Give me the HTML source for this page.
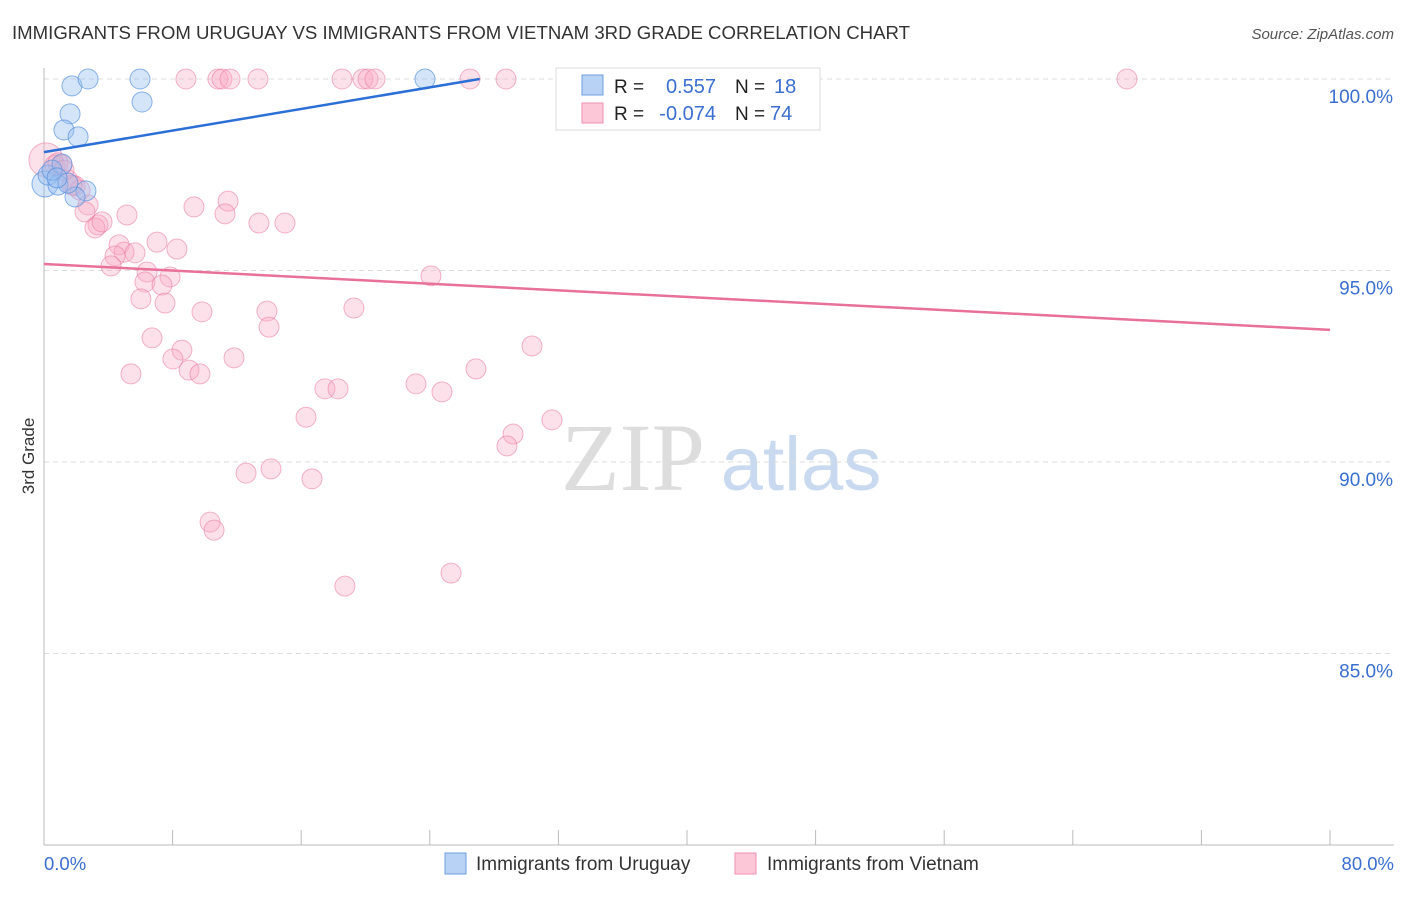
<!DOCTYPE html>
<html><head><meta charset="utf-8"><style>
body{margin:0;background:#fff;font-family:"Liberation Sans",sans-serif}
</style></head><body>
<svg id="c" width="1406" height="892" xmlns="http://www.w3.org/2000/svg">
<text x="12" y="39" font-size="18.6" fill="#333" textLength="898" lengthAdjust="spacingAndGlyphs">IMMIGRANTS FROM URUGUAY VS IMMIGRANTS FROM VIETNAM 3RD GRADE CORRELATION CHART</text>
<text x="1394" y="39" font-size="15" fill="#555" font-style="italic" text-anchor="end">Source: ZipAtlas.com</text>
<text x="633" y="490" font-size="96" fill="#ddd" font-family="Liberation Serif,serif" text-anchor="middle">ZIP</text>
<text x="801" y="490" font-size="76" fill="#c9daf0" text-anchor="middle">atlas</text>
<text transform="translate(34,456) rotate(-90)" font-size="17" fill="#333" text-anchor="middle">3rd Grade</text>
<g id="grid"></g><g id="pts"></g><g id="lines"></g>
<g>
<rect x="556" y="68" width="264" height="62" fill="#fff" stroke="#ddd"/>
<rect x="582" y="75" width="21" height="20" fill="#b8d2f5" stroke="#6d9de0"/>
<rect x="582" y="103" width="21" height="20" fill="#fcc8d8" stroke="#ee8fb0"/>
<text x="614" y="93" font-size="19" fill="#222">R =</text><text x="716" y="93" font-size="20" fill="#3a6fd0" text-anchor="end">0.557</text>
<text x="735" y="93" font-size="19" fill="#222">N =</text><text x="774" y="93" font-size="20" fill="#3a6fd0">18</text>
<text x="614" y="120" font-size="19" fill="#222">R =</text><text x="716" y="120" font-size="20" fill="#3a6fd0" text-anchor="end">-0.074</text>
<text x="735" y="120" font-size="19" fill="#222">N =</text><text x="770" y="120" font-size="20" fill="#3a6fd0">74</text>
</g>
<g>
<rect x="445" y="853" width="21" height="21" fill="#b8d2f5" stroke="#6d9de0"/>
<text x="476" y="870" font-size="19" fill="#333">Immigrants from Uruguay</text>
<rect x="735" y="853" width="21" height="21" fill="#fcc8d8" stroke="#ee8fb0"/>
<text x="767" y="870" font-size="19" fill="#333">Immigrants from Vietnam</text>
</g>
</svg>
<script>
const yTicks=[100,95,90,85];
const yTickLabels=["100.0%","95.0%","90.0%","85.0%"];
const xTickVals=[0,8,16,24,32,40,48,56,64,72,80];
const blueX=[1.74,2.74,5.97,23.7,6.10,1.62,1.24,2.12,0.06,0.25,0.87,1.12,2.61,1.93,1.49,35.5,0.50,0.81];
const blueY=[99.82,100,100,100,99.40,99.09,98.67,98.49,97.26,97.49,97.23,97.78,97.08,96.92,97.28,100,97.62,97.42];
const pinkX=[8.83,10.82,11.07,11.57,13.31,18.54,19.84,20.16,20.59,26.5,28.74,43.3,67.37,0.12,0.68,1.12,0.87,1.49,1.93,2.24,2.74,2.55,3.36,3.17,3.61,5.16,4.67,4.98,4.42,5.66,4.17,7.03,8.27,6.41,6.28,7.84,7.34,6.03,7.53,9.33,11.45,11.26,13.37,14.99,24.07,9.83,13.87,14.00,19.28,6.72,8.58,8.02,11.82,5.41,9.02,9.70,17.48,18.29,23.14,24.76,26.87,30.36,16.30,31.60,29.18,28.80,12.57,14.12,16.67,10.33,10.58,18.72,25.32,1.24,1.74];
const pinkY=[100,100,100,100,100,100,100,100,100,100,100,100,100,97.89,97.75,97.75,97.81,97.36,97.21,97.10,96.71,96.53,96.19,96.11,96.27,96.45,95.67,95.48,95.38,95.46,95.12,95.74,95.56,94.96,94.70,94.83,94.62,94.26,94.15,96.66,96.81,96.48,96.24,96.24,94.86,93.92,93.94,93.52,94.02,93.24,92.92,92.69,92.72,92.30,92.40,92.30,91.91,91.91,92.04,91.83,92.43,93.03,91.17,91.10,90.73,90.42,89.71,89.82,89.56,88.43,88.22,86.76,87.10,97.62,97.23];
const blueTrend=[[0,98.09],[27.1,100]];
const pinkTrend=[[0,95.17],[80,93.45]];
const NS="http://www.w3.org/2000/svg";
const sx=v=>44+v*16.075, sy=v=>79+(100-v)*38.3;
function mk(tag,attrs,parent){const e=document.createElementNS(NS,tag);for(const k in attrs)e.setAttribute(k,attrs[k]);parent.appendChild(e);return e;}
const grid=document.getElementById('grid'),pts=document.getElementById('pts'),lines=document.getElementById('lines');
yTicks.forEach((t,i)=>{
 const l=mk('line',{x1:44,x2:1394,y1:sy(t),y2:sy(t),stroke:'#ddd','stroke-dasharray':'5,4'},grid);
 
 
 const tx=mk('text',{x:1393,y:sy(t)+24,'font-size':19,fill:'#3a6fd0','text-anchor':'end'},grid);
 tx.textContent=yTickLabels[i];
 
 
});
const ax=mk('line',{x1:44,x2:44,y1:68,y2:845,stroke:'#bbb'},grid);


const bx=mk('line',{x1:44,x2:1394,y1:845,y2:845,stroke:'#bbb'},grid);


xTickVals.forEach(v=>{const t=mk('line',{x1:sx(v),x2:sx(v),y1:830,y2:845,stroke:'#bbb'},grid);
 
 });
[[0,"0.0%","start",44],[80,"80.0%","end",1394]].forEach(a=>{const t=mk('text',{x:a[3],y:870,'font-size':18.5,fill:'#3a6fd0','text-anchor':a[2]},grid);t.textContent=a[1];
 
 });
pinkX.forEach((x,i)=>{const c=mk('circle',{cx:sx(x),cy:sy(pinkY[i]),r:i==13?17:10,fill:'rgba(248,170,195,0.35)',stroke:'rgba(232,120,160,0.55)','stroke-width':1},pts);
 
 });
blueX.forEach((x,i)=>{const c=mk('circle',{cx:sx(x),cy:sy(blueY[i]),r:i==8?13:10,fill:'rgba(150,190,240,0.4)',stroke:'rgba(80,140,220,0.65)','stroke-width':1},pts);
 
 });
const b=mk('line',{x1:sx(blueTrend[0][0]),y1:sy(blueTrend[0][1]),x2:sx(blueTrend[1][0]),y2:sy(blueTrend[1][1]),stroke:'#2c6fd6','stroke-width':2.5},lines);


const p=mk('line',{x1:sx(pinkTrend[0][0]),y1:sy(pinkTrend[0][1]),x2:sx(pinkTrend[1][0]),y2:sy(pinkTrend[1][1]),stroke:'#e8709a','stroke-width':2.5},lines);


</script>
</body></html>
